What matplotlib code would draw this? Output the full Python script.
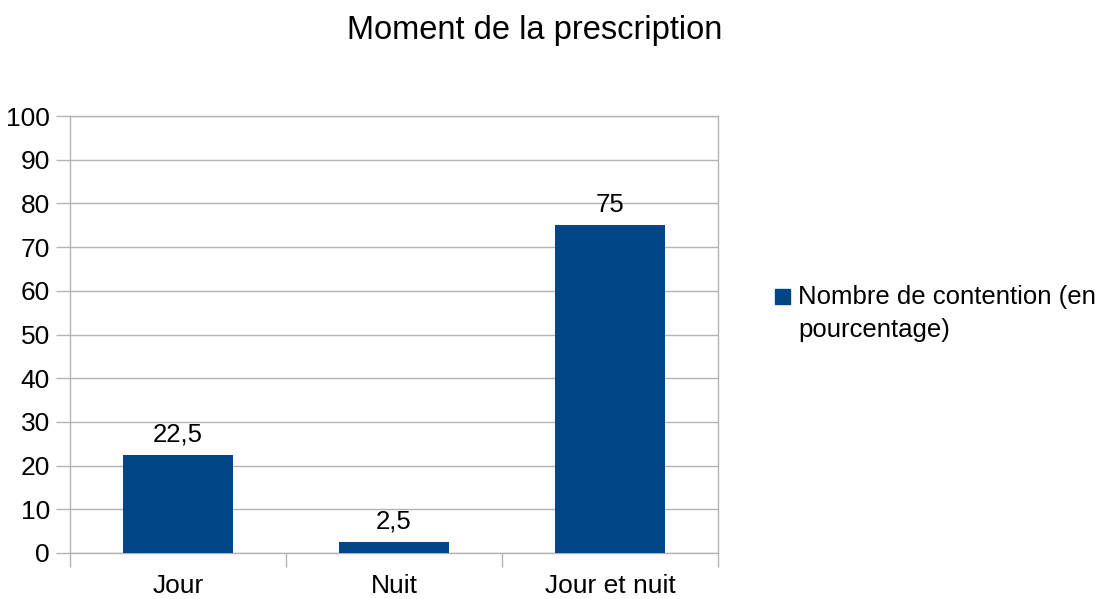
import matplotlib.pyplot as plt
from matplotlib.patches import Rectangle
import numpy as np

plt.rcParams['font.family'] = ['Liberation Sans', 'DejaVu Sans']

# data
categories = ['Jour', 'Nuit', 'Jour et nuit']
values = [22.5, 2.5, 75]
value_labels = ['22,5', '2,5', '75']
series_name = 'Nombre de contention (en\npourcentage)'

bar_color = '#004586'
grid_color = '#b3b3b3'

fig = plt.figure(figsize=(10.97, 5.99), dpi=100)
ax = fig.add_axes([0.0638, 0.0768, 0.5907, 0.7295])

x = np.arange(len(categories))
bars = ax.bar(x, values, width=0.505, color=bar_color, zorder=3, label=series_name)
ax.bar_label(bars, labels=value_labels, padding=6, fontsize=18.5)

ax.set_xlim(-0.5, len(categories) - 0.5)
ax.set_ylim(0, 100)
ax.set_yticks(np.arange(0, 101, 10))
ax.set_xticks(x)
ax.set_xticklabels(categories)
ax.set_xticks(np.arange(-0.5, len(categories), 1), minor=True)

ax.grid(axis='y', color=grid_color, linewidth=1, zorder=0)
for s in ax.spines.values():
    s.set_color(grid_color)
    s.set_linewidth(1)

ax.tick_params(axis='y', which='major', length=10, color=grid_color, width=1,
               pad=4.5, labelsize=19)
ax.tick_params(axis='x', which='major', length=0, pad=15, labelsize=19)
ax.tick_params(axis='x', which='minor', length=10, color=grid_color, width=1)

fig.text(535 / 1097, 1 - 31 / 599, 'Moment de la prescription', ha='center', va='center',
         fontsize=23.5)

# legend: square aligned with the first line of the wrapped label
W, H = 1097, 599
fig.patches.append(Rectangle((775 / W, 1 - 304 / H), 15 / W, 15 / H,
                             transform=fig.transFigure, color=bar_color, figure=fig))
fig.text(798 / W, 1 - 285 / H, series_name, ha='left', va='top', fontsize=18.5,
         linespacing=1.5)

fig.savefig('out.png', dpi=100)
